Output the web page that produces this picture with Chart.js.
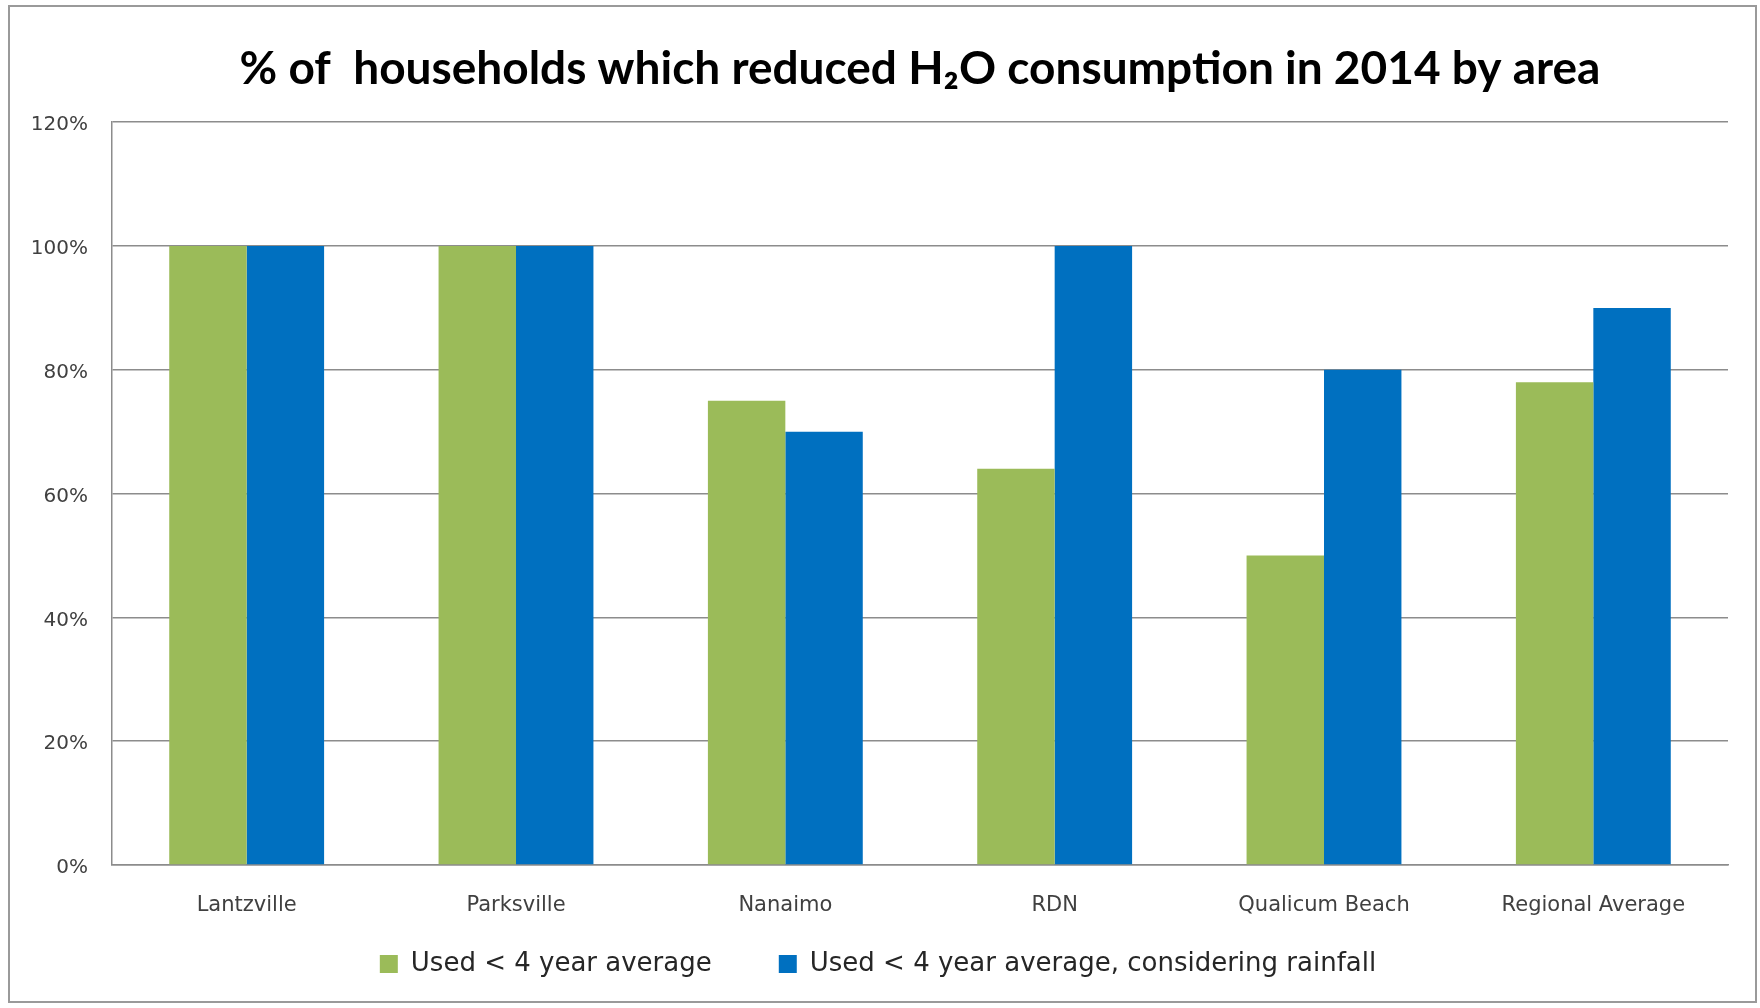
<!DOCTYPE html>
<html>
<head>
<meta charset="utf-8">
<script src="https://cdn.jsdelivr.net/npm/chart.js@4"></script>
<style>
  html, body { margin: 0; padding: 0; background: #fff; }
  #wrap { width: 1760px; height: 1008px; }
</style>
</head>
<body>
<div id="wrap"><canvas id="myBarChart"></canvas></div>
<script>
// reduced H2O consumption by area

var areas = ["Lantzville", "Parksville", "Nanaimo", "RDN", "Qualicum Beach", "Regional Average"];
var usedBelowAvg = [100, 100, 75, 64, 50, 78];
var usedBelowAvgRain = [100, 100, 70, 100, 80, 90];
var seriesNames = ["Used < 4 year average", "Used < 4 year average, considering rainfall"];
var yTicks = [0, 20, 40, 60, 80, 100, 120];

// grey frame round the whole picture
var frame = {
  id: "frame",
  afterDraw: function (chart) {
    var ctx = chart.ctx;
    ctx.save();
    ctx.strokeStyle = "#9a9a9a";
    ctx.lineWidth = 2;
    ctx.strokeRect(9, 6, 1747, 996);
    ctx.restore();
  },
};

var barChartConfig = {
  type: "bar",
  data: {
    labels: areas,
    datasets: [
      {
        label: seriesNames[0],
        data: usedBelowAvg,
        backgroundColor: "#9BBB59",
        categoryPercentage: 0.575,
        barPercentage: 1,
      },
      {
        label: seriesNames[1],
        data: usedBelowAvgRain,
        backgroundColor: "#0070C0",
        categoryPercentage: 0.575,
        barPercentage: 1,
      },
    ],
  },
  options: {
    responsive: true,
    maintainAspectRatio: false,
    animation: false,
    layout: { padding: { left: 28, right: 32, top: 0, bottom: 21 } },
    plugins: {
      title: {
        display: true,
        fullSize: false,
        text: "% of  households which reduced H\u2082O consumption in 2014 by area",
        color: "#000",
        font: { family: "Lato", size: 46, weight: "bold" },
        padding: { top: 42, bottom: 25 },
      },
      legend: {
        position: "bottom",
        labels: {
          color: "#262626",
          font: { family: "DejaVu Sans", size: 26 },
          boxWidth: 18,
          boxHeight: 18,
          padding: 34,
          // a little extra room after the first entry, as in the original
          generateLabels: function (chart) {
            var items = Chart.defaults.plugins.legend.labels.generateLabels(chart);
            items[0].text = items[0].text + "    ";
            return items;
          },
        },
      },
      tooltip: { enabled: false },
    },
    scales: {
      x: {
        grid: { display: false, drawTicks: false },
        border: { display: true, color: "#8c8c8c", width: 1.5 },
        ticks: {
          color: "#404040",
          font: { family: "DejaVu Sans", size: 21, lineHeight: 1 },
          padding: 30,
          maxRotation: 0,
        },
        afterFit: function (scale) {
          scale.height = 52;
        },
      },
      y: {
        min: 0,
        max: 120,
        afterBuildTicks: function (scale) {
          scale.ticks = yTicks.map(function (v) { return { value: v }; });
        },
        grid: { color: "#8c8c8c", lineWidth: 1.5, drawTicks: false },
        border: { display: true, color: "#8c8c8c", width: 1.5 },
        ticks: {
          color: "#404040",
          font: { family: "DejaVu Sans", size: 20 },
          padding: 24,
          labelOffset: 3,
          callback: function (v) { return v + "%"; },
        },
        afterFit: function (scale) {
          scale.width = 84;
        },
      },
    },
  },
  plugins: [frame],
};

var barChart = new Chart(document.getElementById("myBarChart"), barChartConfig);
</script>
</body>
</html>
